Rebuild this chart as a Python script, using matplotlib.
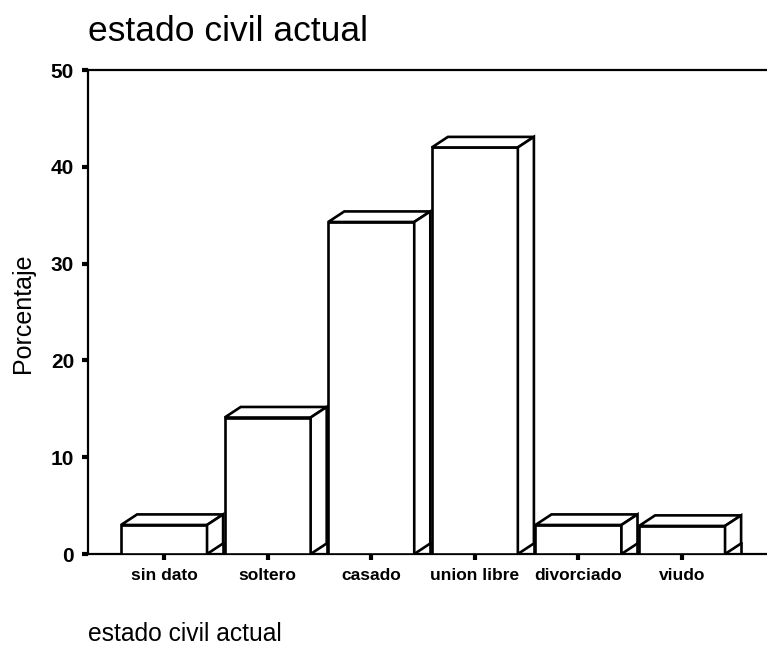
import matplotlib
matplotlib.use('Agg')
from matplotlib import pyplot as plt
from matplotlib.patches import Polygon

# datos
categorias = ['sin dato', 'soltero', 'casado', 'union libre', 'divorciado', 'viudo']
porcentaje = [3.0, 14.1, 34.3, 42.0, 3.0, 2.9]
yticks = [0, 10, 20, 30, 40, 50]

plt.rcParams['font.family'] = ['Liberation Sans', 'DejaVu Sans']

fig = plt.figure(figsize=(7.67, 6.46), dpi=100)
ax = fig.add_axes([88 / 767, 1 - 554 / 646, 1 - 88 / 767, (554 - 70) / 646])

ancho = 0.83   # ancho de la cara frontal
dx = 0.155     # profundidad horizontal
dy = 1.09      # profundidad vertical
lw = 1.9

for i, h in enumerate(porcentaje):
    x0 = i - ancho / 2
    x1 = i + ancho / 2
    # cara frontal
    ax.add_patch(Polygon([(x0, 0), (x1, 0), (x1, h), (x0, h)], closed=True,
                         facecolor='white', edgecolor='black', lw=lw, zorder=3))
    # cara superior
    ax.add_patch(Polygon([(x0, h), (x1, h), (x1 + dx, h + dy), (x0 + dx, h + dy)], closed=True,
                         facecolor='white', edgecolor='black', lw=lw, zorder=3))
    # cara lateral
    ax.add_patch(Polygon([(x1, 0), (x1 + dx, dy), (x1 + dx, h + dy), (x1, h)], closed=True,
                         facecolor='white', edgecolor='black', lw=lw, zorder=3))
    ax.plot([x1 + dx, x1 + dx], [0, dy], color='black', lw=lw, zorder=3)

ax.set_xlim(-0.734, 5.82)
ax.set_ylim(0, 50)
ax.set_xticks(range(len(categorias)))
ax.set_xticklabels(categorias, fontsize=12.5, fontweight='bold')
ax.set_yticks(yticks)
ax.set_yticklabels([str(v) for v in yticks], fontsize=15, fontweight='bold')
ax.tick_params(axis='both', direction='out', length=4, width=3, pad=6)

ax.spines['right'].set_visible(False)
for s in ['left', 'bottom', 'top']:
    ax.spines[s].set_linewidth(1.6)

fig.text(88 / 767, 1 - 41 / 646, 'estado civil actual', fontsize=25.5, va='baseline', ha='left')
fig.text(23 / 767, 1 - 313 / 646, 'Porcentaje', fontsize=18, rotation=90, va='center', ha='center')
fig.text(88 / 767, 1 - 641 / 646, 'estado civil actual', fontsize=17.7, va='baseline', ha='left')

plt.savefig('out.png', dpi=100)
